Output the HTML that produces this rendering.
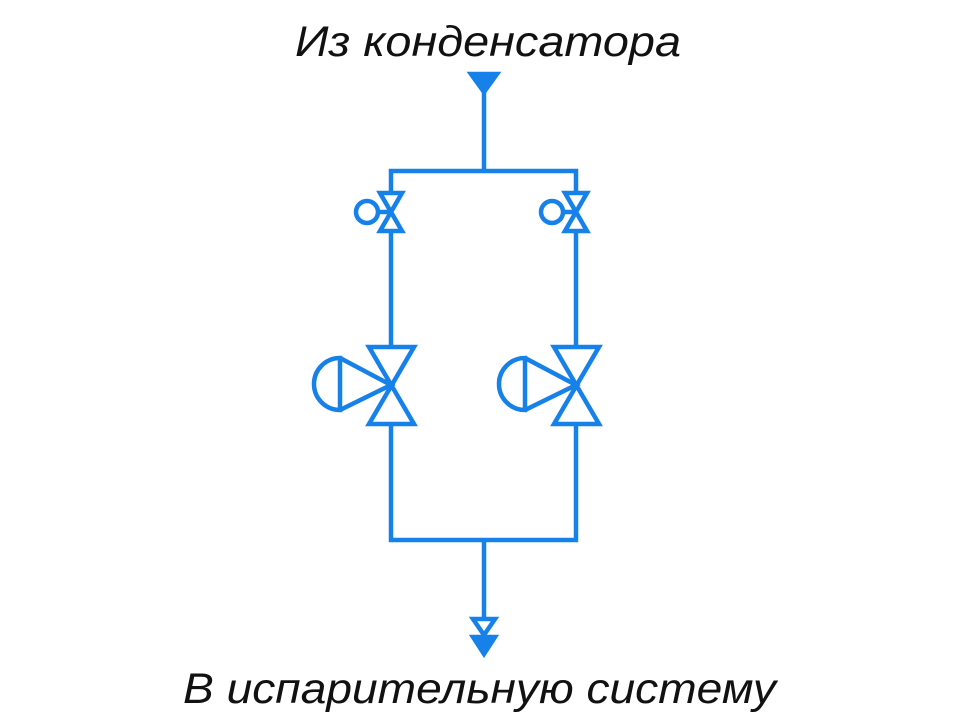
<!DOCTYPE html>
<html><head><meta charset="utf-8"><style>body{margin:0;background:#fff}svg{display:block}</style></head>
<body>
<svg width="980" height="720" viewBox="0 0 980 720" xmlns="http://www.w3.org/2000/svg">
<g font-family="Liberation Sans, DejaVu Sans, sans-serif" font-style="italic" font-size="43" fill="#111">
<text x="295" y="56" textLength="386" lengthAdjust="spacingAndGlyphs">Из конденсатора</text>
<text x="183" y="703" textLength="593" lengthAdjust="spacingAndGlyphs">В испарительную систему</text>
</g>
<g stroke="#1781ea" stroke-width="4.5" fill="none" stroke-linejoin="miter">
<polygon points="471,74 497,74 484,92" fill="#1781ea"/>
<line x1="484" y1="92" x2="484" y2="171"/>
<polyline points="391,192 391,171 576,171 576,192"/>
<polygon points="380,193 402,193 380,231 402,231"/>
<circle cx="367" cy="212" r="11"/>
<line x1="378" y1="212" x2="391" y2="212"/>
<polygon points="565,193 587,193 565,231 587,231"/>
<circle cx="552" cy="212" r="11"/>
<line x1="563" y1="212" x2="576" y2="212"/>
<line x1="391" y1="231" x2="391" y2="347"/>
<line x1="576" y1="231" x2="576" y2="347"/>
<polygon points="369,347 414,347 369,424 414,424"/>
<path d="M340,358 A26,26 0 0 0 340,410 Z M340,358 L391,385 L340,410"/>
<polygon points="554,347 599,347 554,424 599,424"/>
<path d="M525,358 A26,26 0 0 0 525,410 Z M525,358 L576,385 L525,410"/>
<polyline points="391,424 391,540 576,540 576,424"/>
<line x1="484" y1="540" x2="484" y2="619"/>
<polygon points="473,619 495,619 484,635"/>
<polygon points="473,637 495,637 484,654" fill="#1781ea"/>
</g>
</svg>
</body></html>
